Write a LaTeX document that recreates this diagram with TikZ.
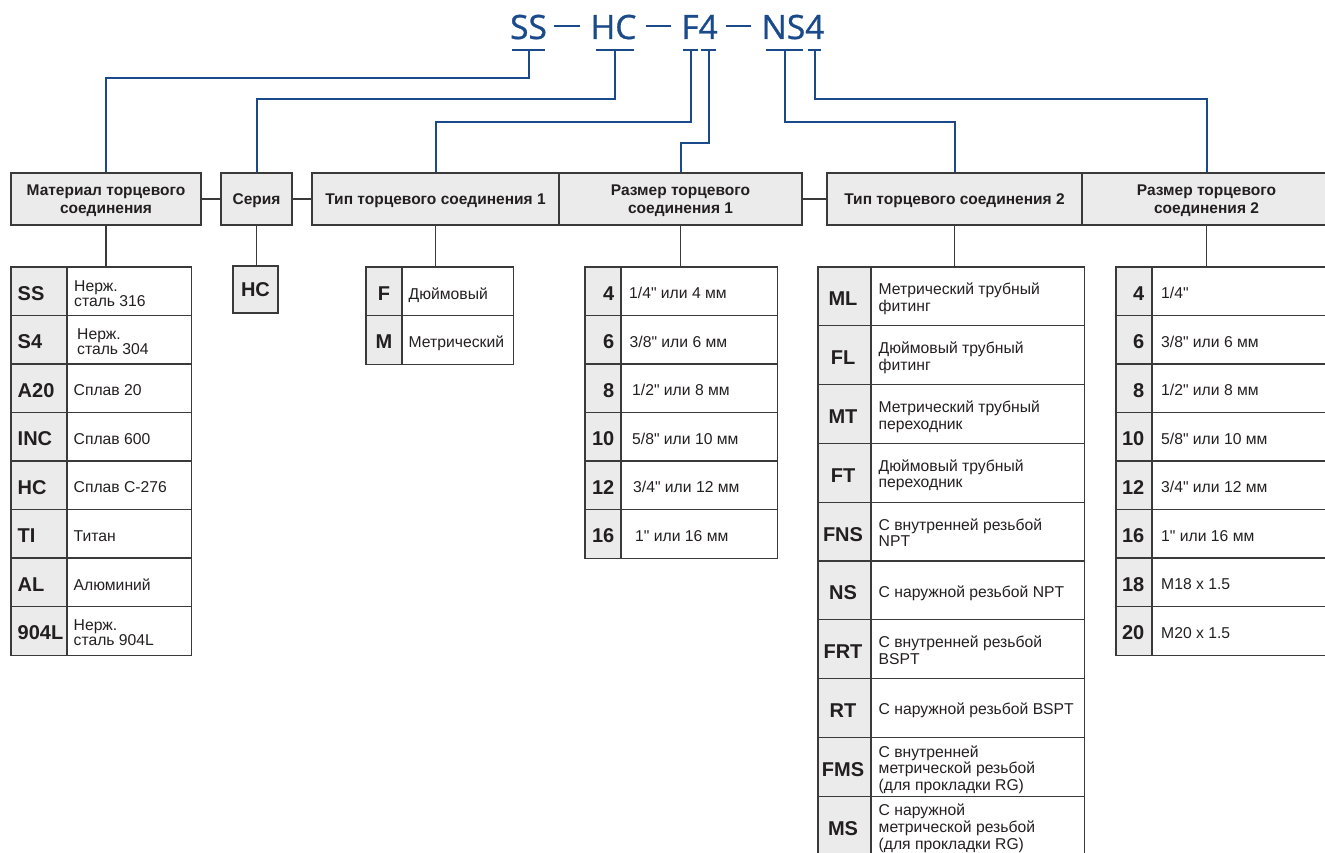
\documentclass[tikz,border=0pt]{standalone}
\usepackage{fontspec}
\setmainfont{Liberation Sans}[Ligatures=TeXOff]
\newfontfamily\titlefont{Open Sans}[FakeBold=0.9]
\definecolor{blu}{HTML}{1A4A8A}
\definecolor{cellfill}{HTML}{EBEBEB}
\definecolor{bdr}{HTML}{3A3A3A}
\definecolor{ink}{HTML}{231F20}
\begin{document}
\begin{tikzpicture}[x=1pt,y=-1pt,
  ttl/.style={font=\titlefont\fontsize{33.5}{36}\selectfont, text=blu, inner sep=0pt, anchor=base},
  bline/.style={draw=blu, line width=2pt},
  gline/.style={draw=bdr, line width=1.3pt},
  hdr/.style={draw=bdr, line width=1.3pt, fill=cellfill, inner sep=0pt, minimum height=52, align=center, text=ink, font=\bfseries\fontsize{15.5}{17.6}\selectfont, text depth=0pt},
  tblframe/.style={inner sep=0pt, anchor=north west},
  codetxt/.style={inner sep=0pt, text=ink, font=\bfseries\fontsize{20}{22}\selectfont, text depth=0pt},
  desc/.style={inner sep=0pt, text=ink, align=left, anchor=west, text depth=0pt, font=\fontsize{15.7}{14.8}\selectfont},
  descw/.style={desc, font=\fontsize{15.7}{16.6}\selectfont},
]
\useasboundingbox (0,0) rectangle (1325,853);
\clip (0,0) rectangle (1325,853);

% ---- title ----
\node[ttl] (tSS) at (528.5,39) {SS};
\node[ttl] (tHC) at (613.5,39) {HC};
\node[ttl] (tF4) at (699.5,39) {F4};
\node[ttl] (tNS4) at (793,39) {NS4};
\draw[bline] (554,26) -- (580,26);
\draw[bline] (646,26) -- (671,26);
\draw[bline] (726,26) -- (751,26);
% underbars
\draw[bline] (512,50) -- (545,50);
\draw[bline] (596,50) -- (634,50);
\draw[bline] (683,50) -- (698,50);
\draw[bline] (701,50) -- (716,50);
\draw[bline] (766,50) -- (803,50);
\draw[bline] (808,50) -- (821,50);
\coordinate (uSS) at (529,50);
\coordinate (uHC) at (615,50);
\coordinate (uF) at (690.5,50);
\coordinate (u4a) at (708.5,50);
\coordinate (uNS) at (784.5,50);
\coordinate (u4b) at (814.5,50);

% ---- header ----
\node[hdr, minimum width=190] (h1) at (106,199) {Материал торцевого\\соединения};
\node[hdr, minimum width=71] (h2) at (256.5,199) {Серия};
\node[hdr, minimum width=247] (h3) at (435.5,199) {Тип торцевого соединения 1};
\node[hdr, minimum width=243] (h4) at (680.5,199) {Размер торцевого\\соединения 1};
\node[hdr, minimum width=255] (h5) at (954.5,199) {Тип торцевого соединения 2};
\node[hdr, minimum width=249] (h6) at (1206.5,199) {Размер торцевого\\соединения 2};

% blue connectors
\draw[bline] (uSS) -- ++(0,28) -| (h1.north);
\draw[bline] (uHC) -- ++(0,49) -| (h2.north);
\draw[bline] (uF) -- ++(0,72) -| (h3.north);
\draw[bline] (u4a) -- ++(0,93) -| (h4.north);
\draw[bline] (uNS) -- ++(0,72) -| (h5.north);
\draw[bline] (u4b) -- ++(0,49) -| (h6.north);

% links between headers
\draw[gline] (h1.east) -- (h2.west);
\draw[gline] (h2.east) -- (h3.west);
\draw[gline] (h4.east) -- (h5.west);

% ---- table frames ----
\node[tblframe, minimum width=180, minimum height=388] (t1) at (11,267) {};
\node[codetxt, draw=bdr, line width=1.3pt, fill=cellfill, minimum width=45, minimum height=47] (hc) at (255.5,289.5) {HC};
\node[tblframe, minimum width=147, minimum height=97] (t2) at (366,267) {};
\node[tblframe, minimum width=192, minimum height=291] (t3) at (585,267) {};
\node[tblframe, minimum width=266, minimum height=588] (t4) at (818,267) {};
\node[tblframe, minimum width=214, minimum height=388] (t5) at (1116,267) {};

% header-to-table links
\draw[gline] (h1.south) -- (h1.south |- t1.north);
\draw[gline] (h2.south) -- (h2.south |- hc.north);
\draw[gline] (h3.south) -- (h3.south |- t2.north);
\draw[gline] (h4.south) -- (h4.south |- t3.north);
\draw[gline] (h5.south) -- (h5.south |- t4.north);
\draw[gline] (h6.south) -- (h6.south |- t5.north);

% code column fills
\fill[cellfill] (11,267) rectangle (67,655);
\fill[cellfill] (366,267) rectangle (402,364);
\fill[cellfill] (585,267) rectangle (621,558);
\fill[cellfill] (818,267) rectangle (871,855);
\fill[cellfill] (1116,267) rectangle (1152,655);

% grid lines
\foreach \i in {1,...,7} \draw[gline] (11,{267+\i*48.5}) -- (191,{267+\i*48.5});
\draw[gline] (366,315.5) -- (513,315.5);
\foreach \i in {1,...,5} \draw[gline] (585,{267+\i*48.5}) -- (777,{267+\i*48.5});
\foreach \i in {1,...,9} \draw[gline] (818,{267+\i*58.8}) -- (1084,{267+\i*58.8});
\foreach \i in {1,...,7} \draw[gline] (1116,{267+\i*48.5}) -- (1330,{267+\i*48.5});
\draw[gline] (67,267) -- (67,655);
\draw[gline] (402,267) -- (402,364);
\draw[gline] (621,267) -- (621,558);
\draw[gline] (871,267) -- (871,855);
\draw[gline] (1152,267) -- (1152,655);
\foreach \t in {t1,t2,t3,t4,t5} \draw[gline] (\t.north west) rectangle (\t.south east);

% ---- table 1: material ----
\foreach \c/\x/\d [count=\i] in {SS/74/{Нерж.\\сталь 316}, S4/77/{Нерж.\\сталь 304}, A20/73.5/{Сплав 20}, INC/73.5/{Сплав 600}, HC/73.5/{Сплав C-276}, TI/73.5/{Титан}, AL/73.5/{Алюминий}, 904L/73.5/{Нерж.\\сталь 904L}}
{
  \pgfmathsetmacro\yc{267+(\i-0.5)*48.5+2}
  \node[codetxt, anchor=west] (t1c\i) at (17.5,\yc) {\c};
  \node[desc] (t1d\i) at (\x,\yc) {\d};
}

% ---- table 2: type 1 ----
\foreach \c/\d [count=\i] in {F/{Дюймовый}, M/{Метрический}}
{
  \pgfmathsetmacro\yc{267+(\i-0.5)*48.5+2}
  \node[codetxt] (t2c\i) at (384,\yc) {\c};
  \node[desc] (t2d\i) at (408.5,\yc) {\d};
}

% ---- table 3: size 1 ----
\foreach \c/\x/\d [count=\i] in {4/629/{1/4" или 4 мм}, 6/629.5/{3/8" или 6 мм}, 8/632/{1/2" или 8 мм}, 10/632/{5/8" или 10 мм}, 12/633/{3/4" или 12 мм}, 16/635/{1" или 16 мм}}
{
  \pgfmathsetmacro\yc{267+(\i-0.5)*48.5+2}
  \node[codetxt, anchor=east] (t3c\i) at (614.5,\yc) {\c};
  \node[desc] (t3d\i) at (\x,\yc) {\d};
}

% ---- table 4: type 2 ----
\foreach \c/\d [count=\i] in {ML/{Метрический трубный\\фитинг}, FL/{Дюймовый трубный\\фитинг}, MT/{Метрический трубный\\переходник}, FT/{Дюймовый трубный\\переходник}, FNS/{С внутренней резьбой\\NPT}, NS/{С наружной резьбой NPT}, FRT/{С внутренней резьбой\\BSPT}, RT/{С наружной резьбой BSPT}, FMS/{С внутренней\\метрической резьбой\\(для прокладки RG)}, MS/{С наружной\\метрической резьбой\\(для прокладки RG)}}
{
  \pgfmathsetmacro\yc{267+(\i-0.5)*58.8}
  \node[codetxt] (t4c\i) at (843,{\yc+2.5}) {\c};
  \node[descw] (t4d\i) at (878.5,{\yc+1}) {\d};
}

% ---- table 5: size 2 ----
\foreach \c/\d [count=\i] in {4/{1/4"}, 6/{3/8" или 6 мм}, 8/{1/2" или 8 мм}, 10/{5/8" или 10 мм}, 12/{3/4" или 12 мм}, 16/{1" или 16 мм}, 18/{M18 x 1.5}, 20/{M20 x 1.5}}
{
  \pgfmathsetmacro\yc{267+(\i-0.5)*48.5+2}
  \node[codetxt, anchor=east] (t5c\i) at (1144.5,\yc) {\c};
  \node[desc] (t5d\i) at (1161,\yc) {\d};
}
\end{tikzpicture}
\end{document}
